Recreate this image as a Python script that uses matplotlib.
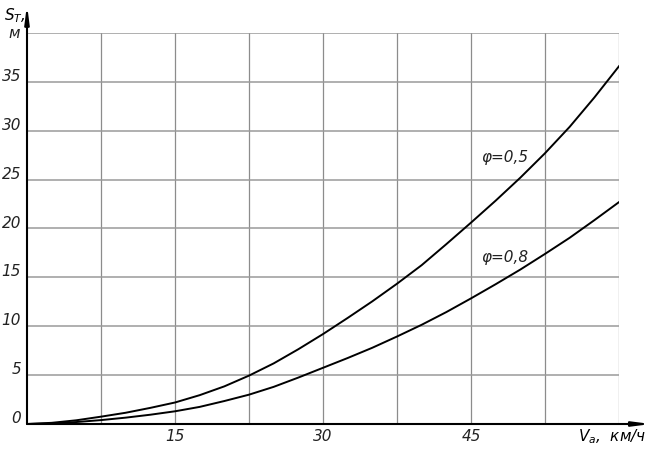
import matplotlib
matplotlib.use("Agg")
import matplotlib.pyplot as plt

plt.rcParams["mathtext.default"] = "it"

v = [0, 2.5, 5, 7.5, 10, 12.5, 15, 17.5, 20, 22.5, 25, 27.5, 30, 32.5, 35, 37.5,
     40, 42.5, 45, 47.5, 50, 52.5, 55, 57.5, 60]
s_05 = [0, 0.12, 0.38, 0.75, 1.15, 1.65, 2.2, 2.95, 3.85, 4.95, 6.2, 7.65, 9.2, 10.85,
        12.55, 14.35, 16.25, 18.4, 20.6, 22.85, 25.2, 27.7, 30.4, 33.4, 36.6]
s_08 = [0, 0.05, 0.2, 0.4, 0.65, 0.95, 1.3, 1.75, 2.35, 3.0, 3.8, 4.75, 5.75, 6.75,
        7.8, 8.95, 10.15, 11.45, 12.85, 14.3, 15.8, 17.4, 19.05, 20.85, 22.7]
x_grid = [7.5, 15, 22.5, 30, 37.5, 45, 52.5, 60]
x_ticks = [15, 30, 45]
y_ticks = [0, 5, 10, 15, 20, 25, 30, 35]
y_grid = [5, 10, 15, 20, 25, 30, 35, 40]

font = dict(family="DejaVu Sans", style="italic", fontsize=11, color="#222222")

fig = plt.figure(figsize=(6.53, 4.5), dpi=100)
ax = fig.add_axes([27/653, 1-424/450, (619-27)/653, (424-33)/450])
ax.set_xlim(0, 60)
ax.set_ylim(0, 40)
for s in ax.spines.values():
    s.set_visible(False)
ax.set_xticks([])
ax.set_yticks([])

for g in x_grid:
    ax.axvline(g, color="#8c8c8c", lw=0.9, zorder=1)
for g in y_grid:
    ax.axhline(g, color="#9a9a9a", lw=1.1, zorder=1)

ax.plot(v, s_05, color="black", lw=1.4, zorder=3, solid_joinstyle="round")
ax.plot(v, s_08, color="black", lw=1.4, zorder=3, solid_joinstyle="round")

# axes with arrows
ax.annotate("", xy=(0, 1.072), xytext=(0, 0), xycoords="axes fraction",
            arrowprops=dict(arrowstyle="-|>,head_length=1.0,head_width=0.13", color="black", lw=1.5,
                            shrinkA=0, shrinkB=0), annotation_clip=False, zorder=5)
ax.annotate("", xy=(1.054, 0), xytext=(0, 0), xycoords="axes fraction",
            arrowprops=dict(arrowstyle="-|>,head_length=1.0,head_width=0.13", color="black", lw=1.5,
                            shrinkA=0, shrinkB=0), annotation_clip=False, zorder=5)

for t in x_ticks:
    ax.text(t, -1.3, str(t), ha="center", va="center", **font)
for t in y_ticks:
    ax.text(-0.6, t + 0.55, str(t), ha="right", va="center", **font)

ax.text(48.4, 27.3, "φ=0,5", ha="center", va="center", **font)
ax.text(48.4, 17.0, "φ=0,8", ha="center", va="center", **font)

fig.text(4/653, 1-16/450, r"$S_{T}$,", ha="left", va="center", fontsize=11,
         family="DejaVu Sans", style="italic")
fig.text(8/653, 1-33/450, "м", ha="left", va="center", **font)
fig.text(578/653, 1-437/450, r"$V_{a}$,  км/ч", ha="left", va="center", fontsize=11,
         family="DejaVu Sans", style="italic")

fig.savefig("out.png", dpi=100)
